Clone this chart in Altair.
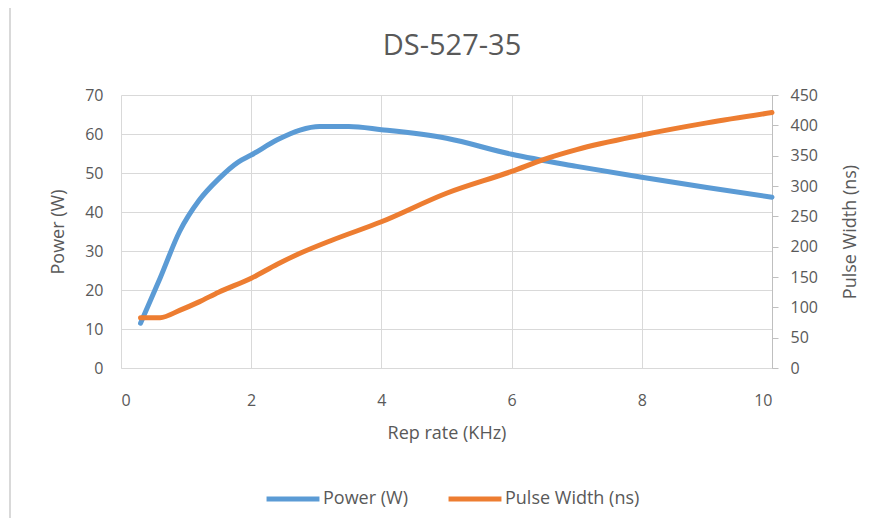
import altair as alt
import pandas as pd

chart_title = "DS-527-35"

rep_rate_power = [0.3, 0.6, 0.9, 1.2, 1.5, 1.8, 2.0, 2.4, 2.75, 3.05, 3.5, 4.0, 5.0, 6.0, 7.0, 8.0, 9.0, 10.0]
power_w = [11.5, 23.0, 35.0, 43.0, 48.5, 52.8, 54.6, 58.5, 61.0, 61.9, 61.9, 61.1, 58.9, 54.8, 51.7, 48.9, 46.3, 43.8]

rep_rate_pw = [0.3, 0.6, 0.9, 1.2, 1.5, 2.0, 2.4, 2.75, 3.25, 4.0, 5.0, 6.0, 6.5, 7.0, 8.0, 9.0, 10.0]
pulse_width_ns = [83, 83, 95, 109, 125, 148, 171, 189, 211, 241, 288, 324, 344, 360, 384, 404, 421]

series_names = ["Power (W)", "Pulse Width (ns)"]
series_colors = ["#5B9BD5", "#ED7D31"]

df_p = pd.DataFrame({"rate": rep_rate_power, "value": power_w})
df_w = pd.DataFrame({"rate": rep_rate_pw, "value": pulse_width_ns})

FONT = "Open Sans"
GRAY = "#595959"
GRID = "#d9d9d9"

color = alt.Color(
    "s:N",
    scale=alt.Scale(domain=series_names, range=series_colors),
    legend=alt.Legend(
        title=None, orient="none", direction="horizontal",
        legendX=143, legendY=375, symbolType="stroke", symbolSize=2800,
        symbolStrokeWidth=5, labelFontSize=18, labelColor=GRAY, labelFont=FONT,
        columnPadding=30, labelOffset=1,
    ),
)

xenc = alt.X(
    "rate:Q", title="Rep rate (KHz)",
    scale=alt.Scale(domain=[0, 10], nice=False),
    axis=alt.Axis(values=[0, 2, 4, 6, 8, 10], grid=True, gridColor=GRID, ticks=False,
                  domainColor=GRID, labelPadding=24, titlePadding=16),
)

power = alt.Chart(df_p).transform_calculate(s="'Power (W)'").mark_line(
    strokeWidth=5, interpolate="monotone", strokeCap="round"
).encode(
    x=xenc,
    y=alt.Y("value:Q", title="Power (W)",
            scale=alt.Scale(domain=[0, 70], nice=False),
            axis=alt.Axis(values=list(range(0, 71, 10)), grid=True, gridColor=GRID,
                          ticks=False, domain=False, labelPadding=18, titlePadding=17)),
    color=color,
)

pw = alt.Chart(df_w).transform_calculate(s="'Pulse Width (ns)'").mark_line(
    strokeWidth=5, interpolate="monotone", strokeCap="round"
).encode(
    x=xenc,
    y=alt.Y("value:Q", title="Pulse Width (ns)",
            scale=alt.Scale(domain=[0, 450], nice=False),
            axis=alt.Axis(orient="right", values=list(range(0, 451, 50)), grid=False,
                          ticks=True, tickSize=6, tickColor="#bfbfbf", domain=True,
                          domainColor="#bfbfbf", labelPadding=12, titlePadding=24,
                          titleAngle=270, titleBaseline="top")),
    color=color,
)

frame_df = pd.DataFrame({"k": [0]})
frame_top = alt.Chart(frame_df).mark_rule(color=GRID, strokeWidth=2).encode(
    x=alt.value(-111), x2=alt.value(770), y=alt.value(-89)
)
frame_left = alt.Chart(frame_df).mark_rule(color=GRID, strokeWidth=2).encode(
    x=alt.value(-111), y=alt.value(-89), y2=alt.value(440)
)
title_text = alt.Chart(frame_df).mark_text(
    fontSize=29, font=FONT, color=GRAY, align="center", baseline="middle"
).encode(x=alt.value(331), y=alt.value(-49), text=alt.value(chart_title))

chart = alt.layer(frame_top, frame_left, title_text, power, pw).resolve_scale(y="independent").properties(
    width=651, height=273,
    background="white",
    autosize=alt.AutoSizeParams(type="none"),
    padding={"left": 113, "top": 87, "right": 100, "bottom": 150},
).configure_view(stroke=None).configure_axis(
    labelFont=FONT, titleFont=FONT, labelFontSize=16, titleFontSize=18,
    labelColor=GRAY, titleColor=GRAY, titleFontWeight="normal",
)

chart.save("out.html", embed_options={"renderer": "svg", "actions": False})
